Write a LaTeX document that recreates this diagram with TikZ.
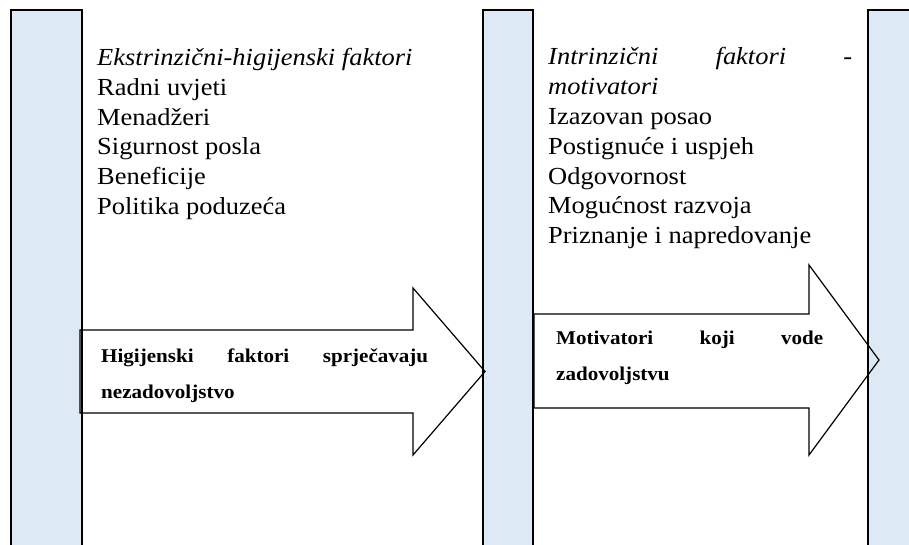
\documentclass[tikz,border=0pt]{standalone}
\usepackage{fontspec}
\setmainfont{Liberation Serif}[FakeStretch=1.08]
\definecolor{colblue}{HTML}{DDE9F5}
\begin{document}
\begin{tikzpicture}[x=1pt,y=-1pt,
  colbar/.style={draw=black, line width=1.6pt, fill=colblue},
  bigarrow/.style={draw=black, line width=1.2pt, line join=miter},
  reg/.style={anchor=base west, inner sep=0pt, font=\fontsize{24.5}{29.5}\selectfont},
  bld/.style={anchor=base west, inner sep=0pt, font=\fontsize{19.5}{36}\selectfont\bfseries}]
\useasboundingbox (0,0) rectangle (909,545);
\fill[white] (0,0) rectangle (909,545);
\begin{scope}
\clip (0,0) rectangle (909,545);
\path[colbar] (11,10) rectangle (82,570);
\path[colbar] (483,10) rectangle (533,570);
\path[colbar] (868,10) rectangle (930,570);
% arrows
\draw[bigarrow] (80,330) -- (413,330) -- (413,288) -- (485,371.5) -- (413,455) -- (413,413) -- (80,413) -- cycle;
\draw[bigarrow] (534,314) -- (809,314) -- (809,265) -- (879,360) -- (809,455) -- (809,408) -- (534,408) -- cycle;
\end{scope}
% left list
\node[reg] (l1) at (97,65.5) {\itshape Ekstrinzični-higijenski faktori};
\node[reg] (l2) at (97,95.3) {Radni uvjeti};
\node[reg] (l3) at (97,125.1) {Menadžeri};
\node[reg] (l4) at (97,154.9) {Sigurnost posla};
\node[reg] (l5) at (97,184.7) {Beneficije};
\node[reg] (l6) at (97,214.5) {Politika poduzeća};
% right list
\node[reg] (r1) at (548,65) {\makebox[304pt][s]{\itshape Intrinzični faktori -}};
\node[reg] (r2) at (548,94.8) {\itshape motivatori};
\node[reg] (r3) at (548,124.6) {Izazovan posao};
\node[reg] (r4) at (548,154.4) {Postignuće i uspjeh};
\node[reg] (r5) at (548,184.2) {Odgovornost};
\node[reg] (r6) at (548,214) {Mogućnost razvoja};
\node[reg] (r7) at (548,243.8) {Priznanje i napredovanje};
% arrow texts
\node[bld] (a1) at (101,362) {\makebox[327pt][s]{Higijenski faktori sprječavaju}};
\node[bld] (a2) at (101,398) {nezadovoljstvo};
\node[bld] (b1) at (556,344) {\makebox[267pt][s]{Motivatori koji vode}};
\node[bld] (b2) at (556,380) {zadovoljstvu};
\end{tikzpicture}
\end{document}
